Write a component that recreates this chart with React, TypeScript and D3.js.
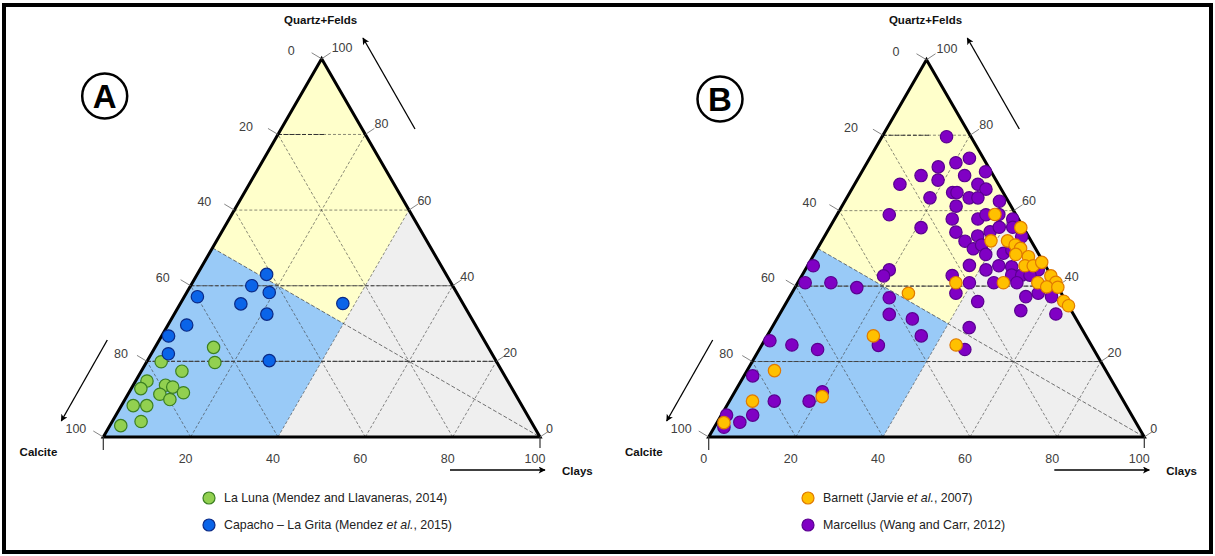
import React from "react";
import * as d3 from "d3";

// ---------- data (percent) : quartz+felds and clays; calcite = 100 - quartz - clays ----------
const tickValues = [0, 20, 40, 60, 80, 100];
const gridLevels = [20, 40, 60, 80];
const bottomLabelsA = [20, 40, 60, 80, 100];
const bottomLabelsB = [0, 20, 40, 60, 80, 100];

const laLunaQuartz = [23.7, 19.7, 19.9, 17.4, 14.8, 12.8, 13.7, 13.2, 11.7, 11.3, 9.9, 8.3, 8.3, 3.0, 4.1];
const laLunaClays = [13.4, 15.7, 3.3, 9.3, 2.6, 2.2, 7.4, 9.3, 12.5, 7.3, 10.3, 2.7, 5.8, 2.5, 6.6];

const capachoQuartz = [43.0, 40.0, 38.2, 37.1, 35.2, 32.5, 35.3, 29.6, 26.7, 22.0, 20.2];
const capachoClays = [15.9, 14.0, 18.9, 3.0, 13.9, 21.2, 37.2, 4.3, 1.6, 3.9, 27.9];

const marcellusQuartz = [
  79.6, 73.9, 72.7, 71.6, 70.3, 69.3, 69.3, 68.1, 67.0, 67.0, 65.7, 64.8, 64.8, 63.4, 63.4, 63.4,
  62.5, 61.2, 58.9, 57.8, 57.8, 58.9, 59.0, 57.8, 55.5, 54.3, 53.3, 54.4, 55.6, 55.6, 51.9, 49.9,
  50.9, 48.4, 48.7, 49.6, 53.1, 45.5, 44.3, 45.4, 45.1, 44.3, 42.9, 42.9, 42.9, 44.3, 42.7, 42.8,
  40.9, 40.9, 40.9, 38.1, 35.9, 37.2, 38.1, 37.2, 33.5, 32.6, 36.9, 32.5, 31.3, 26.8, 29.0, 23.2,
  24.3, 45.4, 40.9, 40.9, 39.6, 25.5, 24.4, 23.2, 16.2, 9.5, 9.5, 12.0, 5.8, 3.9, 5.8, 2.6,
];
const marcellusClays = [
  14.8, 22.9, 20.4, 16.9, 28.4, 14.1, 24.1, 18.6, 10.4, 28.3, 30.8, 23.6, 24.6, 19.1, 28.1, 30.1,
  35.5, 26.2, 12.0, 27.0, 32.9, 34.2, 37.1, 40.9, 21.0, 29.6, 35.1, 37.4, 38.9, 42.0, 32.9, 35.8,
  37.2, 39.4, 43.3, 44.8, 45.3, 37.1, 41.5, 43.9, 47.0, 53.5, 48.1, 50.4, 52.3, 19.3, 18.8, 34.5,
  39.4, 45.0, 50.3, 37.7, 43.8, 54.2, 56.6, 60.1, 54.9, 63.4, 23.0, 25.2, 31.1, 35.4, 45.3, 47.2,
  26.8, 1.3, 1.7, 7.6, 14.2, 1.3, 6.9, 13.4, 2.0, 10.3, 18.3, 20.1, 7.2, 5.2, 1.2, 2.2,
];

const barnettQuartz = [
  59.0, 55.5, 52.0, 52.0, 50.9, 50.0, 48.4, 47.8, 45.4, 45.4, 46.3, 42.7, 41.0, 40.9, 39.8, 39.7,
  36.0, 34.8, 40.9, 40.9, 38.1, 26.8, 24.4, 17.6, 9.5, 10.7, 3.8,
];
const barnettClays = [
  36.2, 43.9, 38.8, 42.6, 44.9, 46.6, 46.3, 49.5, 49.9, 51.8, 53.3, 57.2, 59.2, 55.1, 57.7, 60.3,
  63.5, 65.2, 47.2, 36.3, 26.8, 24.4, 44.6, 6.3, 5.3, 20.7, 1.6,
];

const FONT = "'Liberation Sans', Arial, Helvetica, sans-serif";

type Series = {
  name: string;
  quartz: number[];
  clays: number[];
  fill: string;
  stroke: string;
  label: React.ReactNode;
};

type PanelProps = {
  x0: number;
  x1: number;
  yb: number;
  letter: string;
  letterX: number;
  letterY: number;
  legendX: number;
  bottomLabels: number[];
  series: Series[];
  legendOrder: number[];
};

function TernaryPanel(p: PanelProps) {
  const side = p.x1 - p.x0;
  const h = (side * Math.sqrt(3)) / 2;
  const sx = d3.scaleLinear().domain([0, 100]).range([p.x0, p.x1]);
  const sy = d3.scaleLinear().domain([0, 100]).range([p.yb, p.yb - h]);
  const pt = (q: number, cl: number): [number, number] => [sx(cl + q / 2), sy(q)];
  const line = d3.line<[number, number]>();
  const poly = (pts: [number, number][]) => line(pts.map(([q, cl]) => pt(q, cl))) + "Z";
  const seg = (a: [number, number], b: [number, number]) => line([pt(a[0], a[1]), pt(b[0], b[1])]) || "";

  const apex = pt(100, 0);
  const bl = pt(0, 0);
  const br = pt(0, 100);

  const gridPaths: string[] = [];
  gridLevels.forEach((k) => {
    gridPaths.push(seg([k, 0], [k, 100 - k])); // const quartz
    gridPaths.push(seg([0, k], [100 - k, k])); // const clays
    gridPaths.push(seg([0, 100 - k], [100 - k, 0])); // const calcite
  });

  const textStyle = { fontFamily: FONT, fontSize: 12.5, fill: "#404040" } as const;

  return (
    <g>
      {/* regions */}
      <path d={poly([[0, 40], [60, 40], [0, 100]])} fill="#EFEFEF" />
      <path d={poly([[100, 0], [50, 0], [30, 40], [60, 40]])} fill="#FFFFCB" />
      <path d={poly([[0, 0], [50, 0], [30, 40], [0, 40]])} fill="#99CAF7" />

      {/* grid */}
      {gridPaths.map((d, i) => (
        <path key={i} d={d} stroke="#3a3a3a" strokeWidth={0.6} strokeDasharray="3,2" fill="none" />
      ))}
      <path d={seg([50, 0], [0, 100])} stroke="#3a3a3a" strokeWidth={0.7} strokeDasharray="4,2" fill="none" />
      {/* darker horizontal lines */}
      <path d={seg([20, 0], [20, 80])} stroke="#444" strokeWidth={1.1} strokeDasharray="4,2" fill="none" />
      <path d={seg([40, 0], [40, 60])} stroke="#444" strokeWidth={1.1} strokeDasharray="4,2" fill="none" />
      <path d={seg([80, 0], [80, 11])} stroke="#333" strokeWidth={1.1} strokeDasharray="4,2" fill="none" />

      {/* outline */}
      <path d={line([bl, br, apex])! + "Z"} fill="none" stroke="#000" strokeWidth={3} strokeLinejoin="miter" />

      {/* ticks left (calcite) and right (quartz) */}
      {tickValues.map((v) => {
        const q = v;
        const [lx, ly] = pt(q, 0);
        const [rx, ry] = pt(q, 100 - q);
        const f = q / 100;
        return (
          <g key={"t" + v}>
            <line x1={lx} y1={ly} x2={lx - 10} y2={ly - 6} stroke="#777" strokeWidth={0.9} />
            <line x1={rx} y1={ry} x2={rx + 9} y2={ry - 6} stroke="#777" strokeWidth={0.9} />
            <text x={lx - 17 - 10 * f} y={ly - 8} dy="0.35em" textAnchor="end" style={textStyle}>
              {100 - v}
            </text>
            <text x={rx + 6 + 4 * f} y={ry - 8 - 3 * f} dy="0.35em" textAnchor="start" style={textStyle}>
              {v}
            </text>
          </g>
        );
      })}
      {/* bottom ticks */}
      <line x1={bl[0]} y1={p.yb} x2={bl[0]} y2={p.yb + 13} stroke="#333" strokeWidth={1.2} />
      <line x1={br[0]} y1={p.yb} x2={br[0]} y2={p.yb + 11} stroke="#333" strokeWidth={1.2} />
      {p.bottomLabels.map((v) => (
        <text key={"b" + v} x={sx(v) - 5} y={p.yb + 22} dy="0.35em" textAnchor="middle" style={textStyle}>
          {v}
        </text>
      ))}

      {/* axis titles */}
      <text x={apex[0] - 1} y={24} textAnchor="middle" style={{ fontFamily: FONT, fontSize: 11.5, fontWeight: "bold", fill: "#111" }}>
        Quartz+Felds
      </text>
      <text x={p.x0 - 46} y={456} textAnchor="end" style={{ fontFamily: FONT, fontSize: 11.5, fontWeight: "bold", fill: "#111" }}>
        Calcite
      </text>
      <text x={p.x1 + 22} y={475} textAnchor="start" style={{ fontFamily: FONT, fontSize: 11.5, fontWeight: "bold", fill: "#111" }}>
        Clays
      </text>

      {/* arrows */}
      <line x1={p.x1 - 125} y1={129} x2={p.x1 - 177} y2={38} stroke="#000" strokeWidth={1.3} markerEnd="url(#arrowHead)" />
      <line x1={p.x0 + 4} y1={340} x2={p.x0 - 42} y2={421} stroke="#000" strokeWidth={1.3} markerEnd="url(#arrowHead)" />
      <line x1={p.x1 - 90} y1={470} x2={p.x1 + 5} y2={470} stroke="#000" strokeWidth={1.3} markerEnd="url(#arrowHead)" />

      {/* circled letter */}
      <circle cx={p.letterX} cy={p.letterY} r={22.5} fill="#fff" stroke="#000" strokeWidth={2.5} />
      <text x={p.letterX} y={p.letterY + 12} textAnchor="middle" style={{ fontFamily: FONT, fontSize: 33, fontWeight: "bold", fill: "#000" }}>
        {p.letter}
      </text>

      {/* points */}
      {p.series.map((s) => (
        <g key={s.name}>
          {s.quartz.map((q, i) => {
            const [x, y] = pt(q, s.clays[i]);
            return <circle key={i} cx={x} cy={y} r={6.2} fill={s.fill} stroke={s.stroke} strokeWidth={1.2} />;
          })}
        </g>
      ))}

      {/* legend */}
      {p.legendOrder.map((si, j) => {
        const s = p.series[si];
        const y = 498 + j * 27;
        return (
          <g key={"l" + si}>
            <circle cx={p.legendX} cy={y} r={6} fill={s.fill} stroke={s.stroke} strokeWidth={1.2} />
            <text x={p.legendX + 15} y={y} dy="0.35em" style={{ fontFamily: FONT, fontSize: 12.4, fill: "#222" }}>
              {s.label}
            </text>
          </g>
        );
      })}
    </g>
  );
}

export default function App() {
  const seriesA: Series[] = [
    {
      name: "laluna",
      quartz: laLunaQuartz,
      clays: laLunaClays,
      fill: "#92D050",
      stroke: "#3B7F22",
      label: "La Luna (Mendez and Llavaneras, 2014)",
    },
    {
      name: "capacho",
      quartz: capachoQuartz,
      clays: capachoClays,
      fill: "#0A64E8",
      stroke: "#0B2A86",
      label: (
        <>
          Capacho – La Grita (Mendez <tspan fontStyle="italic">et al.</tspan>, 2015)
        </>
      ),
    },
  ];
  const seriesB: Series[] = [
    {
      name: "marcellus",
      quartz: marcellusQuartz,
      clays: marcellusClays,
      fill: "#8000C4",
      stroke: "#5A0090",
      label: "Marcellus (Wang and Carr, 2012)",
    },
    {
      name: "barnett",
      quartz: barnettQuartz,
      clays: barnettClays,
      fill: "#FFC000",
      stroke: "#E07A00",
      label: (
        <>
          Barnett (Jarvie <tspan fontStyle="italic">et al.</tspan>, 2007)
        </>
      ),
    },
  ];

  return (
    <svg
      width={1215}
      height={556}
      viewBox="0 0 1215 556"
      style={{ position: "absolute", left: 0, top: 0, background: "#fff" }}
    >
      <defs>
        <marker id="arrowHead" viewBox="0 0 10 10" refX={9} refY={5} markerWidth={9} markerHeight={7} markerUnits="userSpaceOnUse" orient="auto">
          <path d="M0,0 L10,5 L0,10 L2.5,5 Z" fill="#000" />
        </marker>
      </defs>
      <rect x={0} y={0} width={1215} height={556} fill="#fff" />
      <TernaryPanel
        x0={103.3}
        x1={540}
        yb={437}
        letter="A"
        letterX={104.7}
        letterY={96}
        legendX={209}
        bottomLabels={bottomLabelsA}
        series={seriesA}
        legendOrder={[0, 1]}
      />
      <TernaryPanel
        x0={708.7}
        x1={1144.3}
        yb={437}
        letter="B"
        letterX={720}
        letterY={99}
        legendX={808}
        bottomLabels={bottomLabelsB}
        series={seriesB}
        legendOrder={[1, 0]}
      />
      <rect x={4} y={5} width={1207} height={547} fill="none" stroke="#000" strokeWidth={4} />
    </svg>
  );
}
